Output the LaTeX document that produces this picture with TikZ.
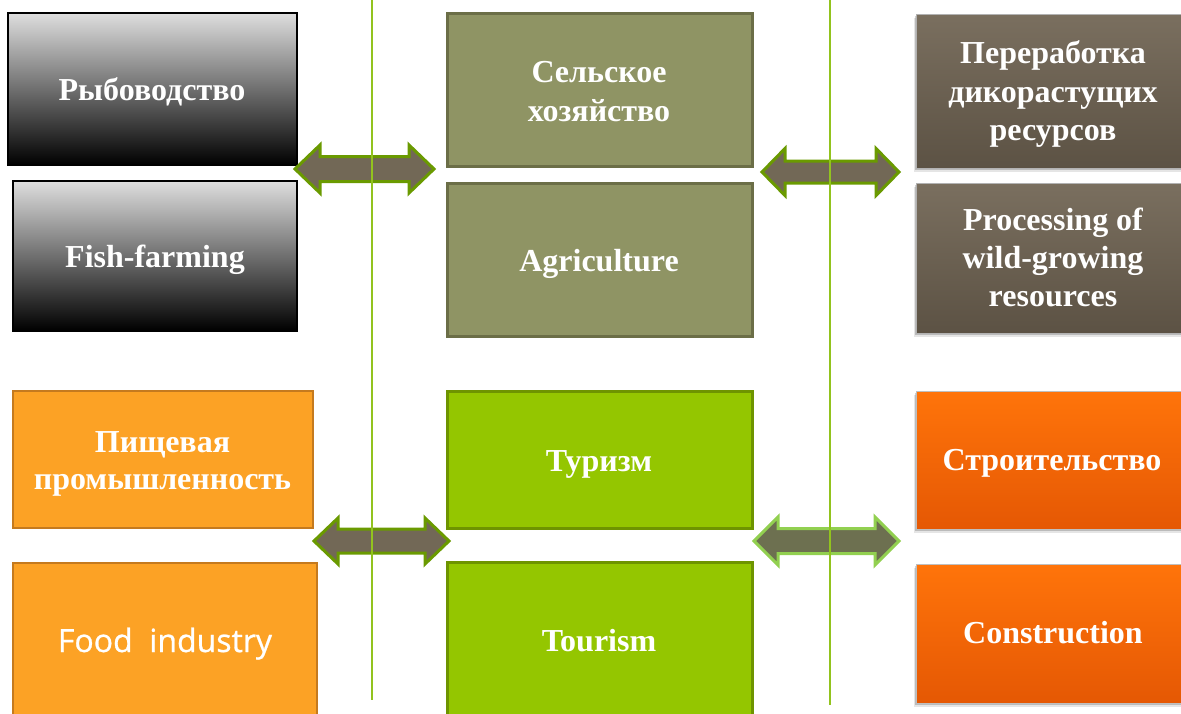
\documentclass[tikz,border=0pt]{standalone}
\usepackage{fontspec}
\setmainfont{Liberation Serif}
\newfontfamily\foodfont[FakeBold=0.8]{Open Sans}
\definecolor{olivef}{HTML}{8F9464}
\definecolor{oliveb}{HTML}{6B6E47}
\definecolor{limef}{HTML}{94C600}
\definecolor{limeb}{HTML}{6E9400}
\definecolor{orgf}{HTML}{FCA225}
\definecolor{orgb}{HTML}{C57A1E}
\definecolor{brtop}{HTML}{7A6F5F}
\definecolor{brbot}{HTML}{5C5244}
\definecolor{ortop}{HTML}{FF740A}
\definecolor{orbot}{HTML}{E55804}
\definecolor{arrf}{HTML}{726856}
\definecolor{arrb}{HTML}{6A9A00}
\definecolor{arrfb}{HTML}{6D7050}
\definecolor{arrbb}{HTML}{92D050}
\definecolor{vline}{HTML}{92C31E}
\newcommand\DArrow[7]{%
  \draw[#1] (#2,#4) -- (#2+#7,#4-#5) -- (#2+#7,#4-#6) -- (#3-#7,#4-#6)
   -- (#3-#7,#4-#5) -- (#3,#4) -- (#3-#7,#4+#5) -- (#3-#7,#4+#6)
   -- (#2+#7,#4+#6) -- (#2+#7,#4+#5) -- cycle;}
\tikzset{
  box/.style={rectangle, inner sep=0pt},
  txt/.style={anchor=base, inner sep=0pt, text=white,
    font=\bfseries\fontsize{32}{38}\selectfont},
  blkbox/.style={box, draw=black, line width=2pt,
    top color={rgb,255:red,222;green,222;blue,222},
    middle color={rgb,255:red,140;green,140;blue,140},
    bottom color=black},
  olbox/.style={box, draw=oliveb, line width=3pt, fill=olivef},
  limebox/.style={box, draw=limeb, line width=3pt, fill=limef},
  orgbox/.style={box, draw=orgb, line width=2.5pt, fill=orgf},
  shad/.style={preaction={fill=black, opacity=.18, transform canvas={xshift=-1pt,yshift=-2pt}},
    preaction={fill=black, opacity=.10, transform canvas={xshift=-2pt,yshift=-4pt}}},
  brbox/.style={box, shad, draw=black!30, line width=0.8pt, top color=brtop, bottom color=brbot},
  orrbox/.style={box, shad, draw=black!25, line width=0.8pt, top color=ortop, bottom color=orbot},
  arrA/.style={fill=arrf, draw=arrb, line width=3pt, line join=miter},
  arrB/.style={fill=arrfb, draw=arrbb, line width=3pt, line join=miter},
  vl/.style={draw=vline, line width=2pt}
}
\begin{document}
\begin{tikzpicture}[x=1pt,y=-1pt]
\useasboundingbox (0,0) rectangle (1181,713);
\clip (0,0) rectangle (1181,713);
\fill[white] (0,0) rectangle (1181,713);
% boxes
\node[blkbox, minimum width=289pt, minimum height=152pt] (ryb) at (152.5,89) {};
\node[blkbox, minimum width=284pt, minimum height=150pt] (fish) at (155,256) {};
\node[olbox, minimum width=305pt, minimum height=153pt] (selk) at (599.5,89.5) {};
\node[olbox, minimum width=305pt, minimum height=153pt] (agri) at (599.5,259.5) {};
\node[brbox, minimum width=274pt, minimum height=154pt] (perer) at (1053,91) {};
\node[brbox, minimum width=274pt, minimum height=150pt] (proc) at (1053,258) {};
\node[orgbox, minimum width=300pt, minimum height=137pt] (pisch) at (163,459.5) {};
\node[orgbox, minimum width=304pt, minimum height=158pt] (food) at (165,642) {};
\node[limebox, minimum width=305pt, minimum height=137pt] (tur) at (599.5,459.5) {};
\node[limebox, minimum width=305pt, minimum height=156pt] (tour) at (599.5,640) {};
\node[orrbox, minimum width=274pt, minimum height=138pt] (stroi) at (1053,460) {};
\node[orrbox, minimum width=274pt, minimum height=139pt] (constr) at (1053,633.5) {};
% texts
\node[txt] (t1) at (152,100) {Рыбоводство};
\node[txt] (t2) at (155,267) {Fish-farming};
\node[txt] (t3a) at (599,82) {Сельское};
\node[txt] (t3b) at (599,121) {хозяйство};
\node[txt] (t4) at (599,271) {Agriculture};
\node[txt] (t5a) at (1053,63) {Переработка};
\node[txt] (t5b) at (1053,102) {дикорастущих};
\node[txt] (t5c) at (1053,140) {ресурсов};
\node[txt] (t6a) at (1053,230) {Processing of};
\node[txt] (t6b) at (1053,268) {wild-growing};
\node[txt] (t6c) at (1053,306) {resources};
\node[txt] (t7a) at (162.5,452) {Пищевая};
\node[txt] (t7b) at (162.5,489) {промышленность};
\node[txt, font=\foodfont\fontsize{32}{38}\selectfont] (t8) at (165,652) {Food~~industry};
\node[txt] (t9) at (599,471) {Туризм};
\node[txt] (t10) at (599,651) {Tourism};
\node[txt] (t11) at (1052,470) {Строительство};
\node[txt] (t12) at (1053,643) {Construction};
% arrows
\DArrow{arrA}{295}{434}{169}{24}{12.5}{25}
\DArrow{arrA}{762}{899}{172}{23.5}{11}{23}
\DArrow{arrA}{314}{449}{541}{23}{12}{24}
\DArrow{arrB}{754}{899}{541}{24}{12.5}{24}
% vertical lines
\coordinate (l1t) at (372,0);
\coordinate (l1b) at (372,700);
\coordinate (l2t) at (830,0);
\coordinate (l2b) at (830,705);
\draw[vl] (l1t) -- (l1b);
\draw[vl] (l2t) -- (l2b);
\end{tikzpicture}
\end{document}
